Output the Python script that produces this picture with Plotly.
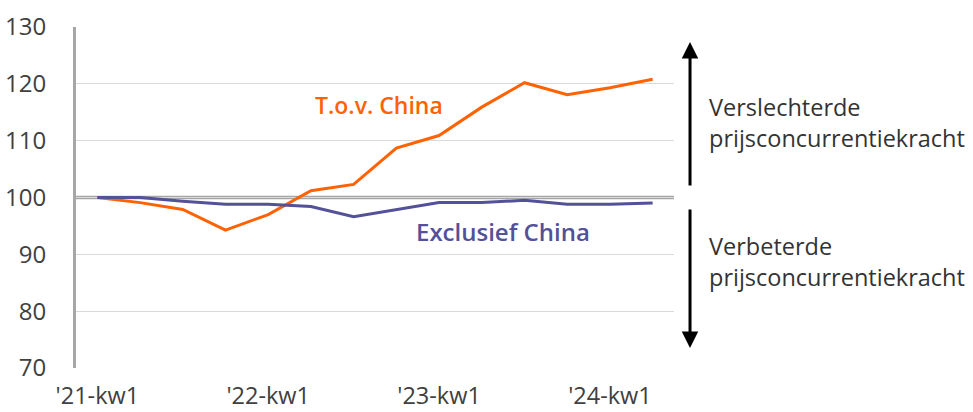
import plotly.graph_objects as go

# Quarterly index (2021 Q1 = 100)
quarters = ["'21-kw1", "'21-kw2", "'21-kw3", "'21-kw4",
            "'22-kw1", "'22-kw2", "'22-kw3", "'22-kw4",
            "'23-kw1", "'23-kw2", "'23-kw3", "'23-kw4",
            "'24-kw1", "'24-kw2"]
tov_china = [100.0, 99.1, 97.9, 94.25, 97.0, 101.2, 102.3, 108.7,
             110.9, 115.9, 120.2, 118.1, 119.3, 120.8]
exclusief_china = [100.0, 100.0, 99.35, 98.8, 98.8, 98.4, 96.6, 97.8,
                   99.1, 99.1, 99.5, 98.8, 98.8, 99.05]

tick_idx = [0, 4, 8, 12]
tick_text = [quarters[i] for i in tick_idx]
y_ticks = [70, 80, 90, 100, 110, 120, 130]

ORANGE = "#FF6200"
INDIGO = "#525199"
TEXT = "#404040"
FONT = "Open Sans"

x = list(range(len(quarters)))

fig = go.Figure()
fig.add_trace(go.Scatter(x=x, y=tov_china, mode="lines",
                         line=dict(color=ORANGE, width=3), name="T.o.v. China"))
fig.add_trace(go.Scatter(x=x, y=exclusief_china, mode="lines",
                         line=dict(color=INDIGO, width=3), name="Exclusief China"))

# reference line at 100, drawn above the grid but beneath the series
fig.add_shape(type="line", xref="paper", x0=0, x1=1, yref="y", y0=100, y1=100,
              line=dict(color="#a6a6a6", width=3.5), layer="between")

# series labels
fig.add_annotation(x=6.6, y=116.3, text="T.o.v. China", showarrow=False,
                   font=dict(family=FONT, size=23, color=ORANGE, weight=600))
fig.add_annotation(x=9.5, y=94.0, text="Exclusief China", showarrow=False,
                   font=dict(family=FONT, size=24, color=INDIGO, weight=600))

# direction arrows on the right (paper coordinates, outside the plot area)
arrow_x = 1.0268
fig.add_annotation(x=arrow_x, y=0.956, xref="paper", yref="paper",
                   ax=0, ay=145, text="", showarrow=True,
                   arrowhead=2, arrowsize=1.1, arrowwidth=3, arrowcolor="black")
fig.add_annotation(x=arrow_x, y=0.0587, xref="paper", yref="paper",
                   ax=0, ay=-140, text="", showarrow=True,
                   arrowhead=2, arrowsize=1.1, arrowwidth=3, arrowcolor="black")

fig.add_annotation(x=1.0555, y=0.72, xref="paper", yref="paper", xanchor="left",
                   yanchor="middle", align="left", showarrow=False,
                   text="Verslechterde<br>prijsconcurrentiekracht",
                   font=dict(family=FONT, size=23.5, color="#333333"))
fig.add_annotation(x=1.0555, y=0.311, xref="paper", yref="paper", xanchor="left",
                   yanchor="middle", align="left", showarrow=False,
                   text="Verbeterde<br>prijsconcurrentiekracht",
                   font=dict(family=FONT, size=23.5, color="#333333"))

fig.update_layout(
    width=973, height=412,
    margin=dict(l=76, r=299, t=27, b=44),
    paper_bgcolor="white", plot_bgcolor="white",
    showlegend=False,
    font=dict(family=FONT, color=TEXT, size=24),
)
fig.update_xaxes(range=[-0.5, 13.5], tickmode="array", tickvals=tick_idx,
                 ticktext=tick_text, showgrid=False, zeroline=False,
                 showline=False, ticks="", ticklabelstandoff=11,
                 automargin=False,
                 tickfont=dict(family=FONT, size=23.5, color=TEXT))
fig.update_yaxes(range=[70, 130], tickmode="array", tickvals=y_ticks,
                 showgrid=True, gridcolor="#d9d9d9", gridwidth=1,
                 zeroline=False, showline=True, linecolor="#a6a6a6",
                 linewidth=3, ticks="", ticklabelstandoff=22,
                 automargin=False,
                 tickfont=dict(family=FONT, size=24, color=TEXT))

fig.write_html("out.html")
